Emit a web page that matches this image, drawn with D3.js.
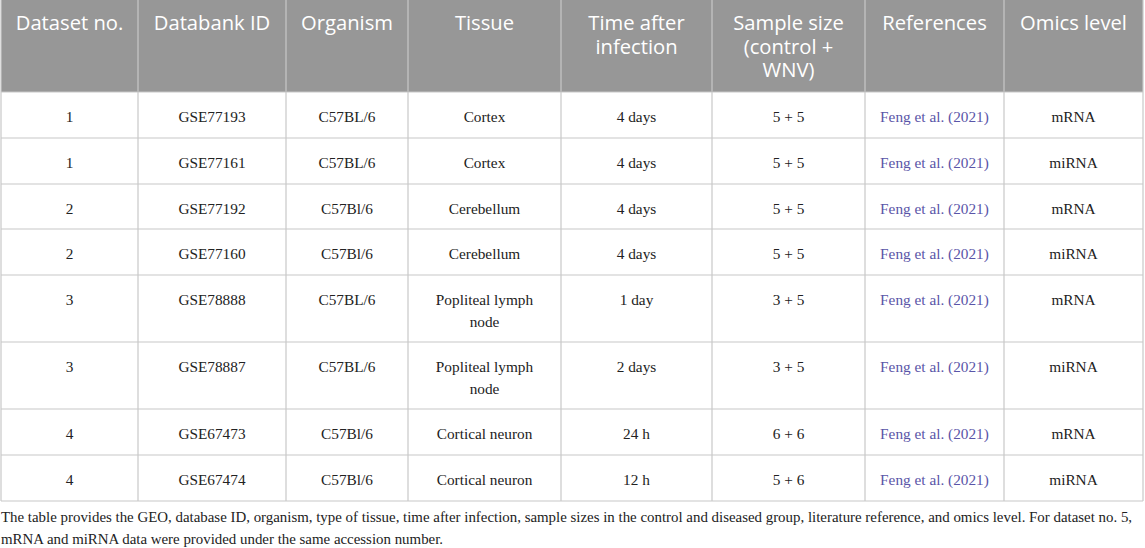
<!DOCTYPE html>
<html><head><meta charset="utf-8">
<script src="https://cdn.jsdelivr.net/npm/d3@7"></script>
<style>body{margin:0;background:#fff}svg{display:block}</style>
</head><body>
<script>
const headers = ["Dataset no.", "Databank ID", "Organism", "Tissue", "Time after\ninfection", "Sample size\n(control +\nWNV)", "References", "Omics level"];
const datasetNo = ["1","1","2","2","3","3","4","4"];
const databankIds = ["GSE77193","GSE77161","GSE77192","GSE77160","GSE78888","GSE78887","GSE67473","GSE67474"];
const organisms = ["C57BL/6","C57BL/6","C57Bl/6","C57Bl/6","C57BL/6","C57BL/6","C57Bl/6","C57Bl/6"];
const tissues = ["Cortex","Cortex","Cerebellum","Cerebellum","Popliteal lymph\nnode","Popliteal lymph\nnode","Cortical neuron","Cortical neuron"];
const times = ["4 days","4 days","4 days","4 days","1 day","2 days","24 h","12 h"];
const sampleSizes = ["5 + 5","5 + 5","5 + 5","5 + 5","3 + 5","3 + 5","6 + 6","5 + 6"];
const references = Array(8).fill("Feng et al. (2021)");
const omics = ["mRNA","miRNA","mRNA","miRNA","mRNA","miRNA","mRNA","miRNA"];
const captionLines = [
  "The table provides the GEO, database ID, organism, type of tissue, time after infection, sample sizes in the control and diseased group, literature reference, and omics level. For dataset no. 5,",
  "mRNA and miRNA data were provided under the same accession number."
];

const columns = [datasetNo, databankIds, organisms, tissues, times, sampleSizes, references, omics];
const W = 1145, H = 548;
const colEdges = [1,138,286,408,561,712,865,1004,1143];
const rowEdges = [0,92,138,184,229,275,342,409,455,501];

const svg = d3.select("body").append("svg").attr("width", W).attr("height", H);

svg.append("rect").attr("x", colEdges[0]).attr("y", rowEdges[0])
  .attr("width", colEdges[8]-colEdges[0]).attr("height", rowEdges[1]-rowEdges[0])
  .attr("fill", "#979797");

const g = svg.append("g").attr("stroke", "#c8c8c8").attr("stroke-width", 1.2);
rowEdges.slice(1).forEach(y => g.append("line").attr("x1", colEdges[0]).attr("x2", colEdges[8]).attr("y1", y).attr("y2", y));
colEdges.forEach(x => g.append("line").attr("x1", x).attr("x2", x).attr("y1", rowEdges[0]).attr("y2", rowEdges[9]));
colEdges.slice(1,8).forEach(x => svg.append("line").attr("x1", x).attr("x2", x).attr("y1", 0).attr("y2", rowEdges[1]).attr("stroke","#b4b4b4").attr("stroke-width",1.2));

headers.forEach((h,i) => {
  const cx = (colEdges[i]+colEdges[i+1])/2;
  const t = svg.append("text").attr("x", cx).attr("text-anchor","middle")
    .attr("font-family","'Open Sans', sans-serif").attr("font-size", 20.2).attr("fill","#fff");
  h.split("\n").forEach((ln,j) => t.append("tspan").attr("x", cx).attr("y", 22 + j*23.5).attr("dominant-baseline","central").text(ln));
});

columns.forEach((col,i) => {
  const cx = (colEdges[i]+colEdges[i+1])/2;
  col.forEach((v,r) => {
    const t = svg.append("text").attr("x", cx).attr("text-anchor","middle")
      .attr("font-family","'Liberation Serif', 'Times New Roman', serif").attr("font-size", 15.3)
      .attr("fill", i===6 ? "#5a55a8" : "#222");
    v.split("\n").forEach((ln,j) => t.append("tspan").attr("x", cx).attr("y", rowEdges[r+1] + 24.5 + j*22).attr("dominant-baseline","central").text(ln));
  });
});

captionLines.forEach((ln,j) => svg.append("text").attr("x", 1).attr("y", 517 + j*22).attr("dominant-baseline","central")
  .attr("font-family","'Liberation Serif', 'Times New Roman', serif").attr("font-size", 14.9).attr("fill","#222").text(ln));
</script>
</body></html>
